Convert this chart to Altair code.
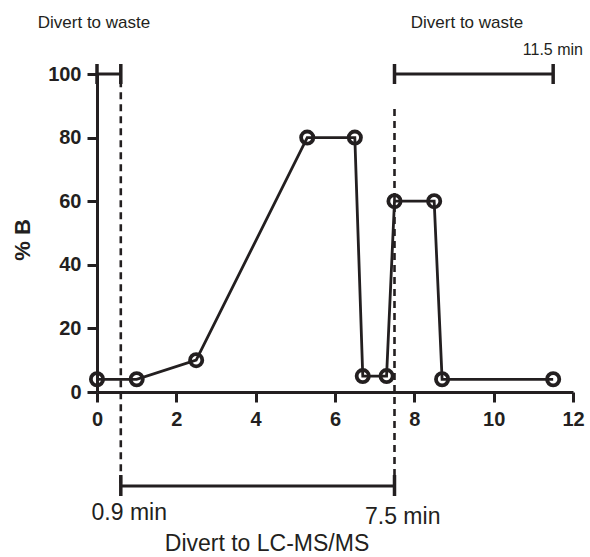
import altair as alt
import pandas as pd

# ---- data ----
time_min = [0, 1, 2.5, 5.3, 6.5, 6.7, 7.3, 7.5, 8.5, 8.7, 11.5]
pct_b = [4, 4, 10, 80, 80, 5, 5, 60, 60, 4, 4]

x_ticks = [0, 2, 4, 6, 8, 10, 12]
y_ticks = [0, 20, 40, 60, 80, 100]

# divert-valve windows (as drawn)
waste_start = [0, 7.5]
waste_end = [0.6, 11.5]
waste_level = [100, 100]
lcms_start = [0.6]
lcms_end = [7.5]
switch_times = [0.6, 7.5]
switch_top = [98, 89]

label_waste = "Divert to waste"
label_end = "11.5 min"
label_start = "0.9 min"
label_switch = "7.5 min"
label_lcms = "Divert to LC-MS/MS"
label_y = "% B"

# ---- styling ----
INK = "#231f20"
FONT = "Liberation Sans"
W, H = 476, 318

xs = alt.Scale(domain=[0, 12], nice=False, zero=False)
ys = alt.Scale(domain=[0, 100], nice=False)

xaxis = alt.Axis(values=x_ticks, title="", grid=False, labelFont=FONT, labelFontSize=20,
                 labelFontWeight="bold", labelColor=INK, labelPadding=7, labelFlush=False,
                 labelOverlap=False, tickSize=10, tickWidth=3, tickColor=INK,
                 domainWidth=3, domainColor=INK)
yaxis = alt.Axis(values=y_ticks, title="", grid=False, labelFont=FONT, labelFontSize=20,
                 labelFontWeight="bold", labelColor=INK, labelPadding=6, labelFlush=False,
                 labelOverlap=False, tickSize=10, tickWidth=3, tickColor=INK,
                 domainWidth=3, domainColor=INK)

gradient = pd.DataFrame({"t": time_min, "b": pct_b})

line = alt.Chart(gradient).mark_line(color=INK, strokeWidth=2.8).encode(
    x=alt.X("t:Q", scale=xs, axis=xaxis),
    y=alt.Y("b:Q", scale=ys, axis=yaxis),
)
points = alt.Chart(gradient).mark_point(shape="circle", filled=False, size=150,
                                        strokeWidth=3.8, color=INK, opacity=1).encode(
    x=alt.X("t:Q", scale=xs, axis=xaxis),
    y=alt.Y("b:Q", scale=ys, axis=yaxis),
)

waste = pd.DataFrame({"t": waste_start, "t2": waste_end, "b": waste_level})
waste_bar = alt.Chart(waste).mark_rule(color=INK, strokeWidth=3).encode(
    x=alt.X("t:Q", scale=xs, axis=xaxis), x2="t2:Q",
    y=alt.Y("b:Q", scale=ys, axis=yaxis),
)
waste_caps = alt.Chart(pd.DataFrame({"t": waste_start + waste_end})).mark_rule(
    color=INK, strokeWidth=3.5).encode(
    x=alt.X("t:Q", scale=xs, axis=xaxis), y=alt.value(-10), y2=alt.value(10),
)

lcms = pd.DataFrame({"t": lcms_start, "t2": lcms_end})
lcms_bar = alt.Chart(lcms).mark_rule(color=INK, strokeWidth=3).encode(
    x=alt.X("t:Q", scale=xs, axis=xaxis), x2="t2:Q", y=alt.value(412),
)
lcms_caps = alt.Chart(pd.DataFrame({"t": lcms_start + lcms_end})).mark_rule(
    color=INK, strokeWidth=3.5).encode(
    x=alt.X("t:Q", scale=xs, axis=xaxis), y=alt.value(401), y2=alt.value(422),
)

switches = pd.DataFrame({"t": switch_times, "b": switch_top})
dashed = alt.Chart(switches).mark_rule(color=INK, strokeWidth=2.6, strokeDash=[7, 5]).encode(
    x=alt.X("t:Q", scale=xs, axis=xaxis),
    y=alt.Y("b:Q", scale=ys, axis=yaxis), y2=alt.value(412),
)


def label(text, x, y, size, align="center", weight="normal", angle=0):
    return alt.Chart(pd.DataFrame({"s": [text]})).mark_text(
        font=FONT, fontSize=size, fontWeight=weight, color=INK, align=align,
        baseline="middle", angle=angle).encode(
        text="s:N", x=alt.value(x), y=alt.value(y))


texts = [
    label(label_waste, -3, -51, 17),
    label(label_waste, 370, -51, 17),
    label(label_end, 486, -24, 16, align="right"),
    label(label_start, 70, 439, 23, align="right"),
    label(label_switch, 268, 443, 23, align="left"),
    label(label_lcms, 170, 470, 23),
    label(label_y, -74, 166, 22, weight="bold", angle=270),
]

chart = alt.layer(dashed, waste_bar, waste_caps, lcms_bar, lcms_caps, line, points, *texts).properties(
    width=W, height=H,
    padding={"left": 97, "top": 74, "right": 17, "bottom": 165},
    autosize=alt.AutoSizeParams(type="none"),
    background="white",
).configure_view(strokeWidth=0)

chart.save("out.html", embed_options={"renderer": "svg", "actions": False})
